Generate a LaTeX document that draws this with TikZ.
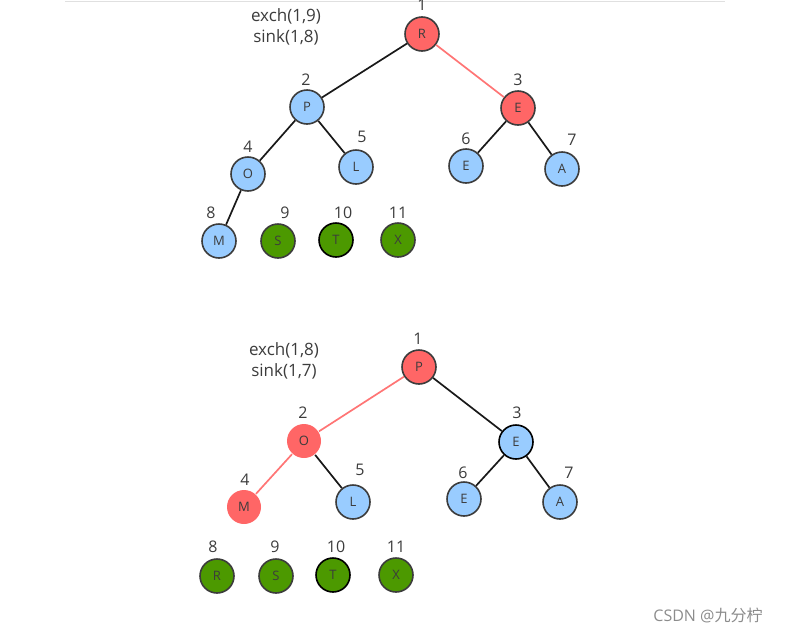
\documentclass[tikz,border=0pt]{standalone}
\usepackage{fontspec}
\setmainfont{Open Sans}
\newfontfamily\cjk{Noto Sans CJK SC}
\begin{document}
\begin{tikzpicture}[x=1pt, y=-1pt]
	\definecolor{heapred}{RGB}{255, 102, 102};
\definecolor{heapblue}{RGB}{153, 204, 255};
\definecolor{heapgreen}{RGB}{76, 153, 0};
\definecolor{heapink}{RGB}{60, 60, 60};

\tikzset{
	key/.style={circle, draw=heapink, line width=1.6pt, minimum size=34pt, inner sep=0pt,
		font=\fontsize{13}{13}\selectfont, text=heapink},
	idx/.style={inner sep=0pt, font=\fontsize{16}{16}\selectfont, text=heapink},
	edge/.style={line width=1.7pt, draw=black!90},
	hot/.style={line width=1.7pt, draw=heapred!90},
	note/.style={align=center, inner sep=0pt, font=\fontsize{17}{21}\selectfont, text=heapink}
}

% \heapkey#name#x#y#letter#style#index#ix#iy
\def\heapkey#1#2#3#4#5#6#7#8{
	\node[key, #5] (#1) at (#2, #3) {#4};
	\node[idx] (#1n) at (#7, #8) {#6};
}

	\useasboundingbox (0, 0) rectangle (789, 635);
	\draw[black!12] (65, 1) -- (725, 1);

	% first step
	\node[note] (note1) at (286, 27) {exch(1,9)\\sink(1,8)};
	\heapkey{a1}{422}{34}{R}{fill=heapred}{1}{422}{5}
	\heapkey{a2}{307}{107}{P}{fill=heapblue}{2}{306}{80}
	\heapkey{a3}{518}{108}{E}{fill=heapred}{3}{518}{80}
	\heapkey{a4}{248}{174}{O}{fill=heapblue}{4}{248}{147}
	\heapkey{a5}{356}{167}{L}{fill=heapblue}{5}{362}{137}
	\heapkey{a6}{466}{166}{E}{fill=heapblue}{6}{466}{139}
	\heapkey{a7}{562}{169}{A}{fill=heapblue}{7}{572}{140}
	\heapkey{a8}{219}{241}{M}{fill=heapblue}{8}{211}{213}
	\heapkey{a9}{278}{241}{S}{fill=heapgreen}{9}{285}{213}
	\heapkey{a10}{336}{240}{T}{fill=heapgreen, draw=black}{10}{343}{213}
	\heapkey{a11}{398}{240}{X}{fill=heapgreen}{11}{398}{213}

	\draw[edge] (a1) -- (a2);
	\draw[hot] (a1) -- (a3);
	\draw[edge] (a2) -- (a4);
	\draw[edge] (a2) -- (a5);
	\draw[edge] (a3) -- (a6);
	\draw[edge] (a3) -- (a7);
	\draw[edge] (a4) -- (a8);

	% second step
	\node[note] (note2) at (284, 361) {exch(1,8)\\sink(1,7)};
	\heapkey{b1}{419}{367}{P}{fill=heapred}{1}{418}{339}
	\heapkey{b2}{304}{441}{O}{fill=heapred, draw=none}{2}{303}{413}
	\heapkey{b3}{516}{442}{E}{fill=heapblue, draw=black}{3}{517}{413}
	\heapkey{b4}{244}{507}{M}{fill=heapred, draw=none}{4}{245}{480}
	\heapkey{b5}{353}{502}{L}{fill=heapblue}{5}{360}{470}
	\heapkey{b6}{464}{499}{E}{fill=heapblue}{6}{463}{473}
	\heapkey{b7}{560}{502}{A}{fill=heapblue}{7}{569}{473}
	\heapkey{b8}{217}{576}{R}{fill=heapgreen}{8}{213}{547}
	\heapkey{b9}{276}{576}{S}{fill=heapgreen}{9}{275}{547}
	\heapkey{b10}{333}{575}{T}{fill=heapgreen, draw=black}{10}{336}{547}
	\heapkey{b11}{396}{575}{X}{fill=heapgreen}{11}{396}{547}

	\draw[hot] (b1) -- (b2);
	\draw[edge] (b1) -- (b3);
	\draw[hot] (b2) -- (b4);
	\draw[edge] (b2) -- (b5);
	\draw[edge] (b3) -- (b6);
	\draw[edge] (b3) -- (b7);

	\node[inner sep=0pt, text=black!45, font=\fontsize{16}{16}\selectfont] (mark) at (708, 615) {CSDN @{\cjk 九分柠}};
\end{tikzpicture}
\end{document}
